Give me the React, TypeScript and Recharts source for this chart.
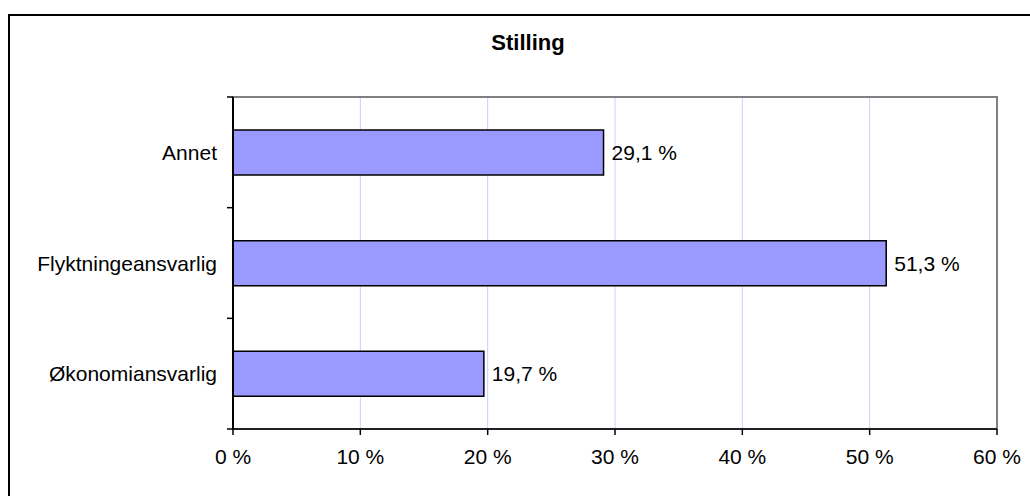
import React from 'react';
import { BarChart, Bar, XAxis, YAxis, CartesianGrid, LabelList, ReferenceArea } from 'recharts';

// Stilling – andel per stillingstype (Excel-lignende liggende stolpediagram)

const categories = ['Annet', 'Flyktningeansvarlig', 'Økonomiansvarlig'];
const shares = [29.1, 51.3, 19.7];
const xTicks = [0, 10, 20, 30, 40, 50, 60];

const data = categories.map((name, i) => ({ name, value: shares[i] }));

const FONT = '"Liberation Sans", Arial, sans-serif';
const FONT_SIZE = 21;

const fmtPct = (v: any) => `${String(v).replace('.', ',')} %`;

// Kategoriakse: merke ved kantene av hvert bånd, tekst i midten
const CategoryTick = (props: any) => {
  const { x, y, payload, index, visibleTicksCount } = props;
  const half = payload?.offset ?? 0;
  const axisX = x + 16;
  return (
    <g>
      <line x1={axisX - 6} x2={axisX} y1={y - half} y2={y - half} stroke="#000" strokeWidth={1.5} />
      {index === visibleTicksCount - 1 && (
        <line x1={axisX - 6} x2={axisX} y1={y + half} y2={y + half} stroke="#000" strokeWidth={1.5} />
      )}
      <text x={x} y={y} textAnchor="end" dominantBaseline="central" fontFamily={FONT} fontSize={FONT_SIZE} fill="#000">
        {payload.value}
      </text>
    </g>
  );
};

const App: React.FC = () => {
  return (
    <div style={{ position: 'absolute', left: 0, top: 0, width: 1030, height: 496, overflow: 'hidden', background: '#fff' }}>
      <div
        style={{
          position: 'absolute',
          left: 8,
          top: 14,
          width: 1036,
          height: 600,
          border: '2px solid #000',
        }}
      />
      <div
        style={{
          position: 'absolute',
          left: 8,
          width: 1040,
          top: 32,
          textAlign: 'center',
          fontFamily: FONT,
          fontSize: 22,
          lineHeight: '22px',
          fontWeight: 'bold',
        }}
      >
        Stilling
      </div>
      <div style={{ position: 'absolute', left: 0, top: 0 }}>
        <BarChart
          width={1030}
          height={496}
          data={data}
          layout="vertical"
          margin={{ top: 97, right: 33, left: 0, bottom: 37 }}
          barSize={45}
        >
          <ReferenceArea x1={0} x2={60} fill="none" stroke="#808080" strokeWidth={2} ifOverflow="visible" />
          <CartesianGrid horizontal={false} stroke="#ccccff" strokeWidth={1} />
          <XAxis
            type="number"
            domain={[0, 60]}
            ticks={xTicks}
            tickFormatter={fmtPct}
            height={30}
            tickSize={6}
            tickMargin={14}
            axisLine={{ stroke: '#000', strokeWidth: 1.5 }}
            tickLine={{ stroke: '#000', strokeWidth: 1.5 }}
            tick={{ fill: '#000', fontFamily: FONT, fontSize: FONT_SIZE }}
          />
          <YAxis
            type="category"
            dataKey="name"
            width={233}
            tickSize={6}
            tickMargin={10}
            tickLine={false}
            axisLine={{ stroke: '#000', strokeWidth: 2 }}
            tick={<CategoryTick />}
          />
          <Bar dataKey="value" fill="#9999ff" stroke="#000" strokeWidth={1.5} isAnimationActive={false}>
            <LabelList
              dataKey="value"
              position="right"
              offset={8}
              formatter={fmtPct}
              fill="#000"
              fontFamily={FONT}
              fontSize={FONT_SIZE}
            />
          </Bar>
        </BarChart>
      </div>
    </div>
  );
};

export default App;
